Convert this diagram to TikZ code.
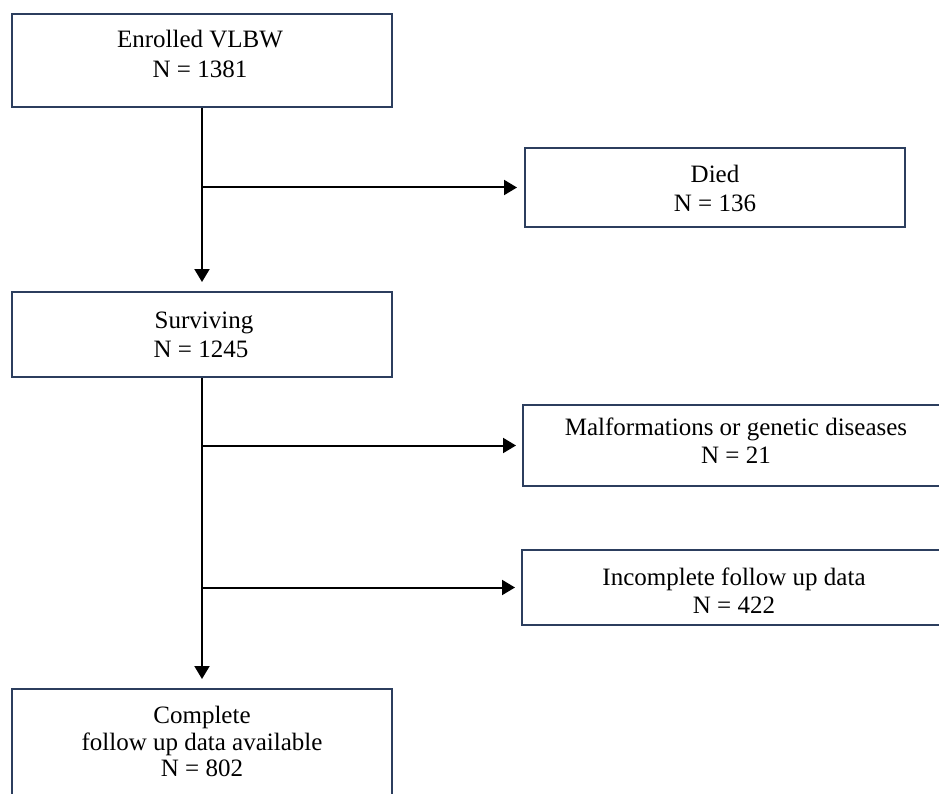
\documentclass[tikz,border=0pt]{standalone}
\usepackage{fontspec}
\setmainfont{Liberation Serif}
\usetikzlibrary{arrows.meta}
\definecolor{boxc}{RGB}{44,62,94}
\begin{document}
\begin{tikzpicture}[x=1pt,y=-1pt,
  box/.style={draw=boxc, line width=2pt, inner sep=0pt},
  txt/.style={anchor=base, inner sep=0pt, font=\fontsize{25}{30}\selectfont},
  conn/.style={line width=2pt, draw=black},
  arr/.style={conn, -{Triangle[length=13pt,width=15pt]}}]
\useasboundingbox (0,0) rectangle (939,794);
\clip (0,0) rectangle (939,794);
% boxes
\node[box, minimum width=380pt, minimum height=93pt] (enr) at (202,60.5) {};
\node[box, minimum width=380pt, minimum height=79pt] (died) at (715,187.5) {};
\node[box, minimum width=380pt, minimum height=85pt] (surv) at (202,334.5) {};
\node[box, minimum width=428pt, minimum height=81pt] (mal) at (737,445.5) {};
\node[box, minimum width=429pt, minimum height=75pt] (inc) at (736.5,587.5) {};
\node[box, minimum width=380pt, minimum height=131pt] (comp) at (202,754.5) {};
% texts
\node[txt] (enrA) at (200,48) {Enrolled VLBW};
\node[txt] (enrB) at (200,78) {N = 1381};
\node[txt] (diedA) at (715,183) {Died};
\node[txt] (diedB) at (715,212) {N = 136};
\node[txt] (survA) at (204,328) {Surviving};
\node[txt] (survB) at (201,357) {N = 1245};
\node[txt] (malA) at (736,435) {Malformations or genetic diseases};
\node[txt] (malB) at (736,463) {N = 21};
\node[txt] (incA) at (734,585) {Incomplete follow up data};
\node[txt] (incB) at (734,613) {N = 422};
\node[txt] (compA) at (202,723) {Complete};
\node[txt] (compB) at (202,750) {follow up data available};
\node[txt] (compC) at (202,776) {N = 802};
% connectors
\draw[arr, shorten >=9pt] (enr.south) -- (surv.north);
\coordinate (j1) at (enr.south |- died.west);
\draw[arr, shorten >=7pt] (j1) -- (died.west);
\draw[arr, shorten >=9pt] (surv.south) -- (comp.north);
\coordinate (j2) at (surv.south |- mal.west);
\draw[arr, shorten >=6pt] (j2) -- (mal.west);
\coordinate (j3) at (surv.south |- inc.west);
\draw[arr, shorten >=6pt] (j3) -- (inc.west);
\end{tikzpicture}
\end{document}
